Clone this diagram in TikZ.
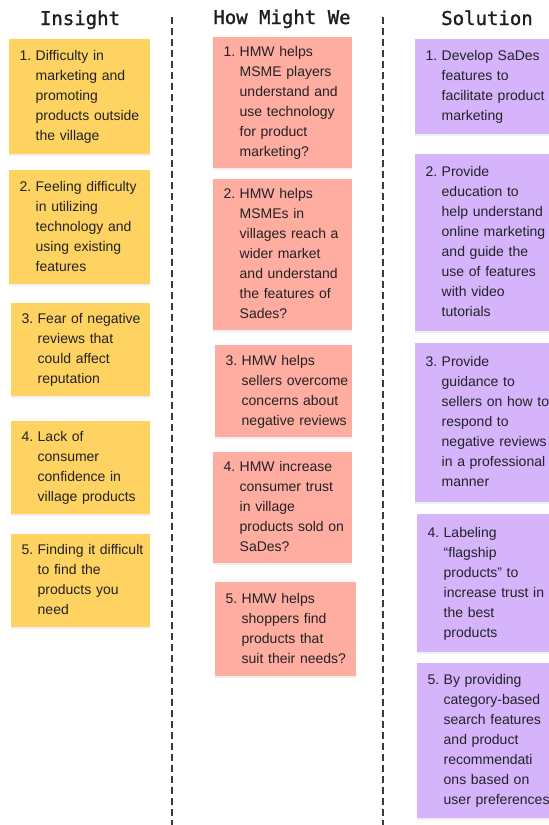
\documentclass[tikz,border=0pt]{standalone}
\usepackage{fontspec}
\setmainfont{Liberation Sans}
\newfontfamily\headfont[FakeBold=1.2]{DejaVu Sans Mono}
\usepackage{tikz}
\usetikzlibrary{shadows}
\newcommand{\notetext}[2]{\makebox[16pt][l]{#1}\begin{tabular}[t]{@{}l@{}}#2\end{tabular}}

\begin{document}
\begin{tikzpicture}[x=1pt,y=-1pt,
  head/.style={anchor=base, inner sep=0pt, text=headc, font=\headfont\fontsize{19}{22}\selectfont},
  note/.style 2 args={anchor=north west, inner xsep=10.5pt, inner ysep=0pt, text width={#1-21pt}, minimum height=#2, align=left, text=inkc, font=\fontsize{14}{20}\selectfont, drop shadow={opacity=0.12, shadow xshift=0pt, shadow yshift=-1.5pt}},
  sep/.style={draw=sepc, line width=1.5pt, dash pattern=on 7pt off 4pt}]
\definecolor{inkc}{RGB}{34,34,38}
\definecolor{headc}{RGB}{28,28,32}
\definecolor{sepc}{RGB}{58,58,64}
\definecolor{c1}{RGB}{255,211,98}
\definecolor{c2}{RGB}{255,173,160}
\definecolor{c3}{RGB}{214,180,252}
\useasboundingbox (0,0) rectangle (549,825);

\coordinate (D1) at (172,17);
\coordinate (D2) at (172,825);
\coordinate (D3) at (383,17);
\coordinate (D4) at (383,825);
\draw[sep] (D1) -- (D2);
\draw[sep] (D3) -- (D4);

\node[head] (T1) at (80,25) {Insight};
\node[head] (T2) at (282,24) {How Might We};
\node[head] (T3) at (487,25) {Solution};

\node[note={141pt}{115pt}, fill=c1] (I1) at (9,39) {\notetext{1.}{Difficulty in\\marketing and\\promoting\\products outside\\the village}};
\node[note={141pt}{114pt}, fill=c1] (I2) at (9,170) {\notetext{2.}{Feeling difficulty\\in utilizing\\technology and\\using existing\\features}};
\node[note={139pt}{93pt}, fill=c1] (I3) at (11,303) {\notetext{3.}{Fear of negative\\reviews that\\could affect\\reputation}};
\node[note={139pt}{93pt}, fill=c1] (I4) at (11,421) {\notetext{4.}{Lack of\\consumer\\confidence in\\village products}};
\node[note={139pt}{93pt}, fill=c1] (I5) at (11,534) {\notetext{5.}{Finding it difficult\\to find the\\products you\\need}};

\node[note={139pt}{131pt}, fill=c2] (H1) at (213,37) {\notetext{1.}{HMW helps\\MSME players\\understand and\\use technology\\for product\\marketing?}};
\node[note={139pt}{151pt}, fill=c2] (H2) at (213,179) {\notetext{2.}{HMW helps\\MSMEs in\\villages reach a\\wider market\\and understand\\the features of\\Sades?}};
\node[note={137pt}{92pt}, fill=c2] (H3) at (215,345) {\notetext{3.}{HMW helps\\sellers overcome\\concerns about\\negative reviews}};
\node[note={139pt}{111pt}, fill=c2] (H4) at (213,452) {\notetext{4.}{HMW increase\\consumer trust\\in village\\products sold on\\SaDes?}};
\node[note={141pt}{94pt}, fill=c2] (H5) at (215,582) {\notetext{5.}{HMW helps\\shoppers find\\products that\\suit their needs?}};

\node[note={135pt}{95pt}, fill=c3] (S1) at (415,39) {\notetext{1.}{Develop SaDes\\features to\\facilitate product\\marketing}};
\node[note={135pt}{177pt}, fill=c3] (S2) at (415,154) {\notetext{2.}{Provide\\education to\\help understand\\online marketing\\and guide the\\use of features\\with video\\tutorials}};
\node[note={135pt}{159pt}, fill=c3] (S3) at (415,343) {\notetext{3.}{Provide\\guidance to\\sellers on how to\\respond to\\negative reviews\\in a professional\\manner}};
\node[note={133pt}{138pt}, fill=c3] (S4) at (417,514) {\notetext{4.}{Labeling\\“flagship\\products” to\\increase trust in\\the best\\products}};
\node[note={133pt}{155pt}, fill=c3] (S5) at (417,663) {\notetext{5.}{By providing\\category-based\\search features\\and product\\recommendati\\ons based on\\user preferences}};
\end{tikzpicture}
\end{document}
